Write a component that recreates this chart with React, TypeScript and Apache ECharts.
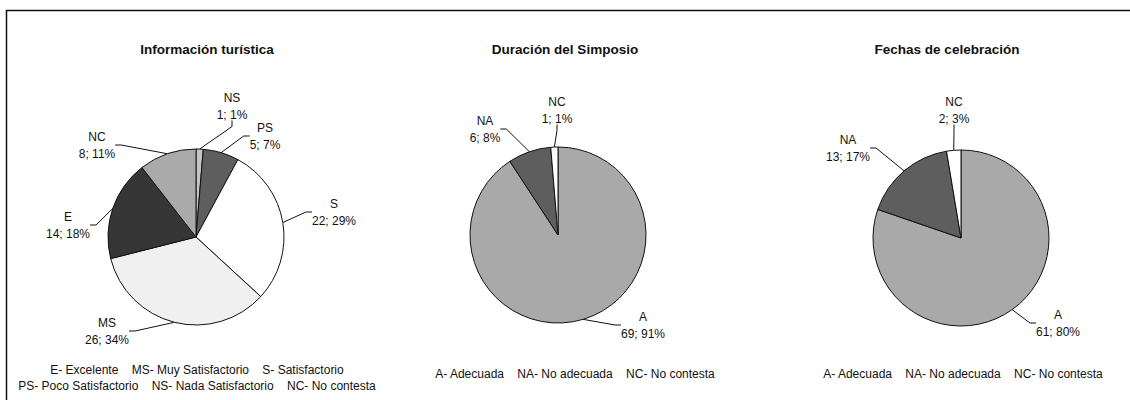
import React, { useEffect, useRef } from "react";
import * as echarts from "echarts";

const titles = ["Información turística", "Duración del Simposio", "Fechas de celebración"];

const infoNames = ["NS", "PS", "S", "MS", "E", "NC"];
const infoValues = [1, 5, 22, 26, 14, 8];
const infoColors = ["#c4c4c4", "#5e5e5e", "#ffffff", "#f0f0f0", "#363636", "#aaaaaa"];

const durNames = ["A", "NA", "NC"];
const durValues = [69, 6, 1];
const fechNames = ["A", "NA", "NC"];
const fechValues = [61, 13, 2];
const adeColors = ["#a9a9a9", "#5e5e5e", "#ffffff"];

const legend1 = [
  "E- Excelente    MS- Muy Satisfactorio    S- Satisfactorio",
  "PS- Poco Satisfactorio    NS- Nada Satisfactorio    NC- No contesta",
];
const legend2 = ["A- Adecuada    NA- No adecuada    NC- No contesta"];
const legend3 = ["A- Adecuada    NA- No adecuada    NC- No contesta"];

const FONT = "'Liberation Sans', Arial, sans-serif";

function makePie(
  names: string[],
  values: number[],
  colors: string[],
  cx: number,
  cy: number,
  offsets: number[][]
) {
  return {
    type: "pie",
    center: [cx, cy],
    radius: 88,
    startAngle: 90,
    clockwise: true,
    percentPrecision: 0,
    data: names.map((n, i) => ({ name: n, value: values[i], itemStyle: { color: colors[i] } })),
    itemStyle: { borderColor: "#111", borderWidth: 1 },
    label: {
      show: true,
      position: "outside",
      formatter: "{c|{b}}\n{c|{c}; {d}%}",
      color: "#111",
      fontFamily: FONT,
      fontSize: 12,
      rich: { c: { align: "center", fontSize: 12, fontFamily: FONT, color: "#111", lineHeight: 17 } },
    },
    labelLine: { show: true, length: 14, length2: 6, lineStyle: { color: "#111", width: 1 } },
    labelLayout: (p: any) => {
      const o = offsets[p.dataIndex];
      return { x: cx + o[0], y: cy + o[1], align: "center", verticalAlign: "middle", moveOverlap: null, hideOverlap: false };
    },
    emphasis: { disabled: true },
  };
}

export default function App() {
  const ref = useRef<HTMLDivElement>(null);
  useEffect(() => {
    if (!ref.current) return;
    const chart = echarts.init(ref.current, null, { renderer: "svg" });
    const titleX = [207, 565, 947];
    const legendX = [197, 575, 963];
    // label block offsets from each pie centre (layout only)
    const off1 = [[36, -131], [69, -101], [138, -25], [-89, 94], [-128, -12], [-99, -92]];
    const off2 = [[85, 90], [-73, -106], [-1, -125]];
    const off3 = [[97, 85], [-113, -90], [-7, -128]];
    const graphics: any[] = [
      { type: "rect", shape: { x: 6.5, y: 10.5, width: 1200, height: 500 }, style: { fill: "none", stroke: "#111", lineWidth: 1.5 }, silent: true },
    ];
    titles.forEach((t, i) => {
      graphics.push({
        type: "text", x: titleX[i], y: 49,
        style: { text: t, font: `bold 13.5px ${FONT}`, fill: "#111", align: "center", verticalAlign: "middle" },
      });
    });
    legend1.forEach((t, j) => {
      graphics.push({ type: "text", x: legendX[0], y: 370 + j * 16, style: { text: t, font: `12px ${FONT}`, fill: "#111", align: "center", verticalAlign: "middle" } });
    });
    legend2.forEach((t) => {
      graphics.push({ type: "text", x: legendX[1], y: 374, style: { text: t, font: `12px ${FONT}`, fill: "#111", align: "center", verticalAlign: "middle" } });
    });
    legend3.forEach((t) => {
      graphics.push({ type: "text", x: legendX[2], y: 374, style: { text: t, font: `12px ${FONT}`, fill: "#111", align: "center", verticalAlign: "middle" } });
    });
    chart.setOption({
      animation: false,
      backgroundColor: "#ffffff",
      series: [
        makePie(infoNames, infoValues, infoColors, 196, 237, off1),
        makePie(durNames, durValues, adeColors, 558, 235, off2),
        makePie(fechNames, fechValues, adeColors, 961, 238, off3),
      ],
      graphic: graphics,
    });
    return () => chart.dispose();
  }, []);
  return <div ref={ref} style={{ position: "absolute", left: 0, top: 0, width: 1130, height: 400 }} />;
}
